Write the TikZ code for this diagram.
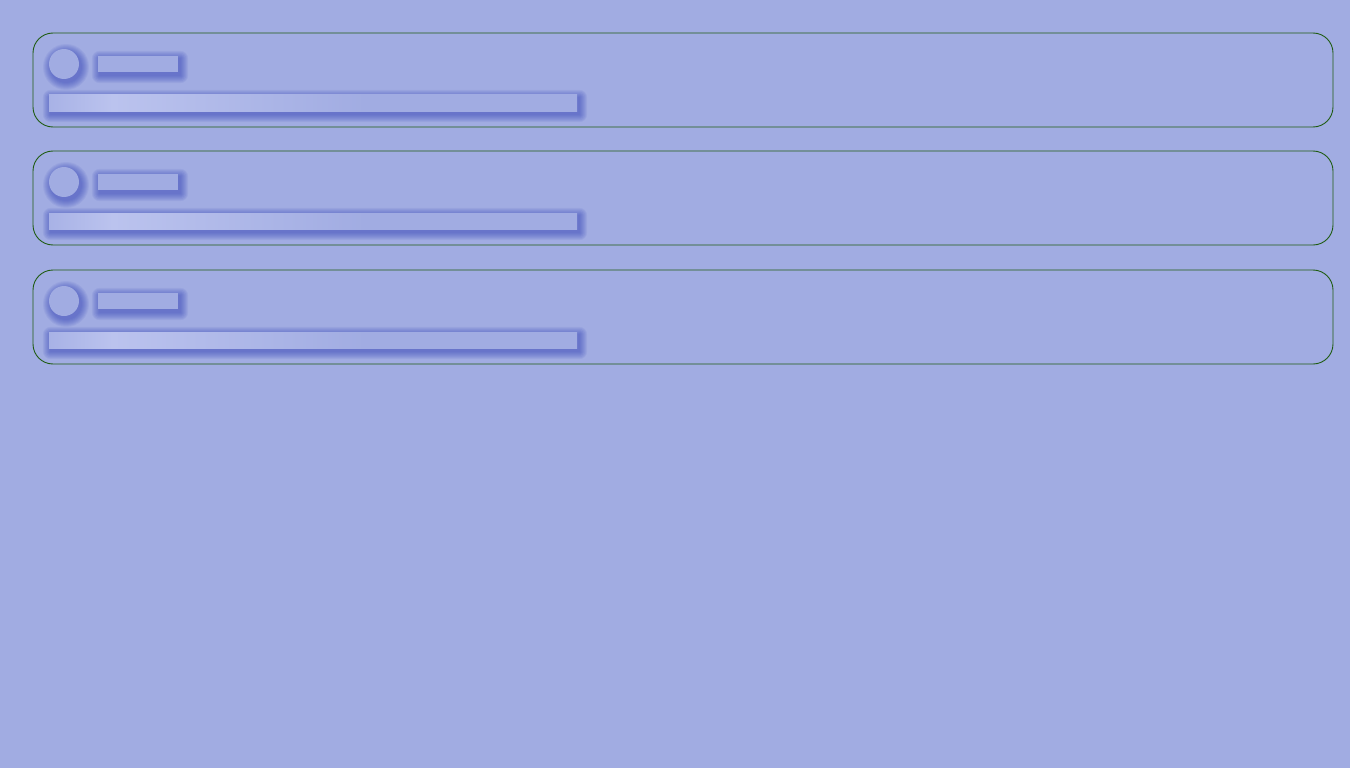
\documentclass[tikz,border=0pt]{standalone}
\usepackage{tikz}
\definecolor{skelbg}{HTML}{A1ACE2}
\definecolor{skelline}{HTML}{1F5C12}
\definecolor{skelshadow}{HTML}{2A3BB5}
\definecolor{skelhi}{HTML}{BBC3EE}
\definecolor{skello}{HTML}{A8B2E6}
\pgfdeclarehorizontalshading{skelwave}{100bp}{color(0bp)=(skello); color(25bp)=(skello);
  color(31bp)=(skelhi); color(55bp)=(skelbg); color(100bp)=(skelbg)}
\pgfdeclarelayer{paper}
\pgfdeclarelayer{glow}
\pgfsetlayers{paper,glow,main}
\tikzstyle{card}=[draw=skelline,line width=0.9pt,rounded corners=20pt,
               minimum width=1300pt,minimum height=94pt,inner sep=0]
\tikzstyle{halo}=[fill=skelshadow,fill opacity=0.075]
\tikzstyle{avatar}=[fill=skelbg,circle,inner sep=0,minimum size=30pt]
\tikzstyle{skelbar}=[fill=skelbg,inner sep=0,minimum width=80pt,minimum height=16pt]
\tikzstyle{wavebar}=[shading=skelwave,inner sep=0,minimum width=528pt,minimum height=16pt]
\newcommand{\glowbox}[1]{\foreach \r in {1,...,8}{\fill[halo,rounded corners=\r pt]
  ([shift={(2-\r,3-\r)}]#1.north west) rectangle ([shift={(2+\r,3+\r)}]#1.south east);}}
\newcommand{\glowdot}[1]{\foreach \r in {1,...,8}{\fill[halo]
  ([shift={(2,3)}]#1.center) circle (15+\r);}}

\begin{document}
\begin{tikzpicture}[x=1pt,y=-1pt]
  \begin{pgfonlayer}{paper}
    \fill[skelbg] (0,0) rectangle (1350,768);
  \end{pgfonlayer}
  \useasboundingbox (0,0) rectangle (1350,768);
  \foreach \i/\dy in {1/0,2/118,3/237}{
    \node[card] (card\i) at (683,80+\dy) {};
    \node[avatar] (av\i) at (64,64+\dy) {};
    \node[skelbar] (title\i) at (138,64+\dy) {};
    \node[wavebar] (line\i) at (313,103+\dy) {};
    \begin{pgfonlayer}{glow}
      \glowdot{av\i}
      \glowbox{title\i}
      \glowbox{line\i}
    \end{pgfonlayer}
  }
\end{tikzpicture}
\end{document}
